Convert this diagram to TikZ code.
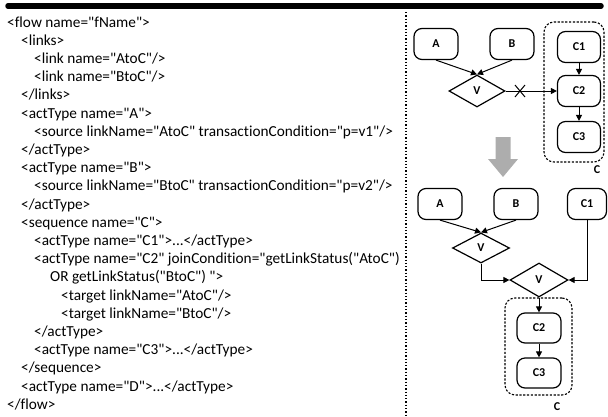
\documentclass[tikz,border=0pt]{standalone}
\usepackage{fontspec}
\setmainfont{Carlito}
% plain straight quotes and no ti/fi ligatures in the listing
\newfontfamily\codefont{Carlito}[Ligatures={NoCommon}]
\usetikzlibrary{arrows.meta,shapes.geometric}
\begin{document}
\begin{tikzpicture}[x=1pt,y=-1pt,
  code/.style={anchor=base west, inner sep=0pt, font=\codefont\fontsize{15.3}{18}\selectfont},
  act/.style={draw, line width=1.2pt, rounded corners=8pt, minimum width=44pt,
    minimum height=31pt, inner sep=0pt, font=\fontsize{12}{14}\selectfont\bfseries},
  gate/.style={draw, diamond, line width=1.2pt, inner sep=0pt,
    font=\fontsize{12}{14}\selectfont\bfseries},
  flow/.style={line width=1pt, -{Triangle[length=6pt,width=6pt]}},
  group/.style={draw, dashed, dash pattern=on 2.2pt off 1.6pt, line width=1.1pt, rounded corners=10pt},
  grouplabel/.style={inner sep=0pt, font=\fontsize{12}{14}\selectfont\bfseries}]

\useasboundingbox (0,0) rectangle (608,416);

% header rule and column separator
\draw[line width=5.5pt, line cap=round] (8,6) -- (601,6);
\draw[dotted, line width=1.3pt] (406,12) -- (406,416);

% XML listing
\foreach \i/\x/\t in {
  1/7/{<flow name="fName">},
  2/21/{<links>},
  3/34/{<link name="AtoC"/>},
  4/34/{<link name="BtoC"/>},
  5/21/{</links>},
  6/21/{<actType name="A">},
  7/34/{<source linkName="AtoC" transactionCondition="p=v1"/>},
  8/21/{</actType>},
  9/21/{<actType name="B">},
  10/34/{<source linkName="BtoC" transactionCondition="p=v2"/>},
  11/21/{</actType>},
  12/21/{<sequence name="C">},
  13/34/{<actType name="C1">...</actType>},
  14/34/{<actType name="C2" joinCondition="getLinkStatus("AtoC")},
  15/50/{OR getLinkStatus("BtoC") ">},
  16/61/{<target linkName="AtoC"/>},
  17/61/{<target linkName="BtoC"/>},
  18/34/{</actType>},
  19/34/{<actType name="C3">...</actType>},
  20/21/{</sequence>},
  21/21/{<actType name="D">...</actType>},
  22/7/{</flow>}}
  \node[code] (line\i) at (\x,{27+(\i-1)*18.2}) {\t};

% ---- upper flow: join V feeding C2 directly (link cut)
\node[act] (a1) at (436,44) {A};
\node[act] (b1) at (512,44) {B};
\node[gate, minimum width=56pt, minimum height=32pt] (v1) at (477,91) {V};
\node[act, minimum width=43pt] (c11) at (579,47) {C1};
\node[act, minimum width=43pt] (c21) at (579,91) {C2};
\node[act, minimum width=43pt] (c31) at (579,137) {C3};
\node[group, inner sep=0pt, minimum width=60pt, minimum height=140pt] (g1) at (574,92) {};
\node[grouplabel] (lc1) at (597,170) {C};

\draw[flow] (a1.south) -- (v1.north);
\draw[flow] (b1.south) -- (v1.north);
\draw[flow] (v1.east) -- (c21.west);
\coordinate (cut) at (520,91);
\draw[line width=1pt] ([shift={(-5,-6)}]cut) -- ([shift={(5,6)}]cut)
                      ([shift={(-5,6)}]cut) -- ([shift={(5,-6)}]cut);
\draw[flow] (c11.south) -- (c21.north);
\draw[flow] (c21.south) -- (c31.north);

% transformation arrow
\fill[black!32] (495.5,137) -- (510.5,137) -- (510.5,159) -- (518,159) -- (503,177)
  -- (488,159) -- (495.5,159) -- cycle;

% ---- lower flow: C1 joined with A and B before C2
\node[act] (a2) at (440,204) {A};
\node[act] (b2) at (516,204) {B};
\node[act, minimum width=39pt] (c12) at (587,204) {C1};
\node[gate, minimum width=57pt, minimum height=30pt] (v2) at (481,248) {V};
\node[gate, minimum width=58pt, minimum height=34pt] (v3) at (539,280) {V};
\node[act, minimum height=30pt] (c22) at (539,328) {C2};
\node[act, minimum height=30pt] (c32) at (539,373) {C3};
\node[group, inner sep=0pt, minimum width=67pt, minimum height=97pt] (g2) at (538.5,346.5) {};
\node[grouplabel] (lc2) at (557,407) {C};

\draw[flow] (a2.south) -- (v2.north);
\draw[flow] (b2.south) -- (v2.north);
\draw[flow] (v2.south) |- (v3.west);
\draw[flow] (c12.south) |- (v3.east);
\draw[flow] (v3.south) -- (c22.north);
\draw[flow] (c22.south) -- (c32.north);
\end{tikzpicture}
\end{document}
